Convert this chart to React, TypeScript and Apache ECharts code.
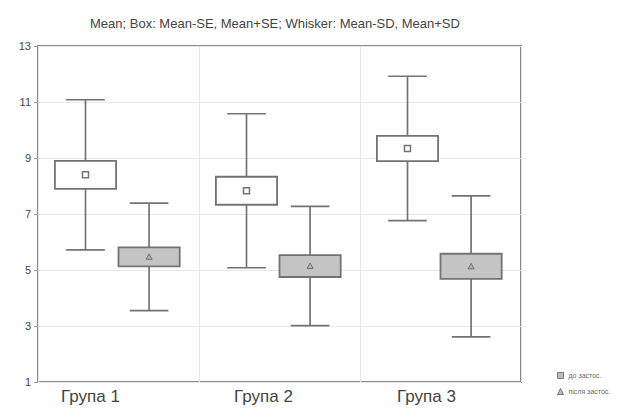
import React, { useEffect, useRef } from "react";
import * as echarts from "echarts";

const categories = ["Група 1", "Група 2", "Група 3"];
const labelShift = [28, 16, 14];
const seriesNames = ["до застос.", "після застос."];

const beforeMean = [8.4, 7.83, 9.34];
const beforeSE = [0.5, 0.5, 0.45];
const beforeSD = [2.68, 2.75, 2.58];

const afterMean = [5.47, 5.14, 5.13];
const afterSE = [0.34, 0.39, 0.45];
const afterSD = [1.92, 2.13, 2.52];

const yTicks = { min: 1, max: 13, interval: 2 };
const titleText = "Mean; Box: Mean-SE, Mean+SE; Whisker: Mean-SD, Mean+SD";

const LINE = "#737373";

function buildData(mean: number[], se: number[], sd: number[]) {
  return mean.map((m, i) => [i, m - sd[i], m - se[i], m, m + se[i], m + sd[i]]);
}

function makeRenderer(offset: number, fill: string, marker: "square" | "triangle") {
  return (params: any, api: any) => {
    const cat = api.value(0);
    const band = api.size([1, 0])[0];
    const cx = api.coord([cat, 0])[0] + offset * band;
    const yLow = api.coord([cat, api.value(1)])[1];
    const yQ1 = api.coord([cat, api.value(2)])[1];
    const yMean = api.coord([cat, api.value(3)])[1];
    const yQ3 = api.coord([cat, api.value(4)])[1];
    const yHigh = api.coord([cat, api.value(5)])[1];
    const boxW = band * 0.38;
    const capW = band * 0.24;
    const ls = { stroke: LINE, lineWidth: 1.7 };
    const children: any[] = [
      { type: "line", shape: { x1: cx, y1: yHigh, x2: cx, y2: yQ3 }, style: ls },
      { type: "line", shape: { x1: cx, y1: yQ1, x2: cx, y2: yLow }, style: ls },
      { type: "line", shape: { x1: cx - capW / 2, y1: yHigh, x2: cx + capW / 2, y2: yHigh }, style: ls },
      { type: "line", shape: { x1: cx - capW / 2, y1: yLow, x2: cx + capW / 2, y2: yLow }, style: ls },
      {
        type: "rect",
        shape: { x: cx - boxW / 2, y: yQ3, width: boxW, height: yQ1 - yQ3 },
        style: { fill, stroke: LINE, lineWidth: 1.8 },
      },
    ];
    if (marker === "square") {
      children.push({
        type: "rect",
        shape: { x: cx - 3, y: yMean - 3, width: 6, height: 6 },
        style: { fill: "#ffffff", stroke: LINE, lineWidth: 1.5 },
      });
    } else {
      children.push({
        type: "polygon",
        shape: { points: [[cx, yMean - 3], [cx + 3, yMean + 2.5], [cx - 3, yMean + 2.5]] },
        style: { fill: "#b0b0b0", stroke: LINE, lineWidth: 1 },
      });
    }
    return { type: "group", children };
  };
}

export default function App() {
  const ref = useRef<HTMLDivElement>(null);
  useEffect(() => {
    if (!ref.current) return;
    const chart = echarts.init(ref.current, null, { renderer: "svg" });
    const rich: any = {};
    categories.forEach((c, i) => {
      rich["c" + i] = {
        fontSize: 17,
        color: "#444",
        fontFamily: "Liberation Sans, Arial, sans-serif",
        padding: [0, labelShift[i] * 2, 0, 0],
      };
    });
    chart.setOption({
      animation: false,
      backgroundColor: "#ffffff",
      title: {
        text: titleText,
        left: 85,
        top: 12,
        textStyle: {
          fontSize: 13,
          fontWeight: "normal",
          color: "#444",
          fontFamily: "Liberation Sans, Arial, sans-serif",
        },
      },
      grid: {
        left: 38,
        right: 108,
        top: 46,
        bottom: 36,
        show: true,
        borderColor: "#8a8a8a",
        borderWidth: 2,
        backgroundColor: "transparent",
      },
      legend: {
        orient: "vertical",
        left: 552,
        top: 367,
        itemWidth: 6,
        itemHeight: 6,
        itemGap: 9,
        textStyle: { fontSize: 7, color: "#666", fontFamily: "Liberation Sans, Arial, sans-serif" },
        data: [
          { name: seriesNames[0], icon: "rect", itemStyle: { color: "#bdbdbd", borderColor: "#777", borderWidth: 1 } },
          { name: seriesNames[1], icon: "triangle", itemStyle: { color: "#bdbdbd", borderColor: "#777", borderWidth: 1 } },
        ],
      },
      xAxis: {
        type: "category",
        data: categories,
        boundaryGap: true,
        axisLine: { show: false },
        axisTick: { show: false },
        splitLine: { show: true, lineStyle: { color: "#e4e4e4", width: 1 } },
        axisLabel: {
          margin: 6,
          formatter: (v: string) => `{c${categories.indexOf(v)}|${v}}`,
          rich,
        },
      },
      yAxis: {
        type: "value",
        min: yTicks.min,
        max: yTicks.max,
        interval: yTicks.interval,
        axisLine: { show: false },
        axisTick: { show: true, length: 4, lineStyle: { color: "#999" } },
        splitLine: { show: true, lineStyle: { color: "#e8e8e8", width: 1 } },
        axisLabel: {
          margin: 7,
          fontSize: 11,
          color: "#444",
          fontFamily: "Liberation Sans, Arial, sans-serif",
        },
      },
      series: [
        {
          name: seriesNames[0],
          type: "custom",
          renderItem: makeRenderer(-0.205, "#ffffff", "square"),
          encode: { x: 0, y: [1, 2, 3, 4, 5] },
          data: buildData(beforeMean, beforeSE, beforeSD),
          itemStyle: { color: "#bdbdbd" },
        },
        {
          name: seriesNames[1],
          type: "custom",
          renderItem: makeRenderer(0.19, "#c4c4c4", "triangle"),
          encode: { x: 0, y: [1, 2, 3, 4, 5] },
          data: buildData(afterMean, afterSE, afterSD),
          itemStyle: { color: "#bdbdbd" },
        },
      ],
    });
    return () => chart.dispose();
  }, []);
  return (
    <div
      ref={ref}
      style={{ position: "fixed", left: 0, top: 0, width: 629, height: 418, background: "#fff" }}
    />
  );
}
